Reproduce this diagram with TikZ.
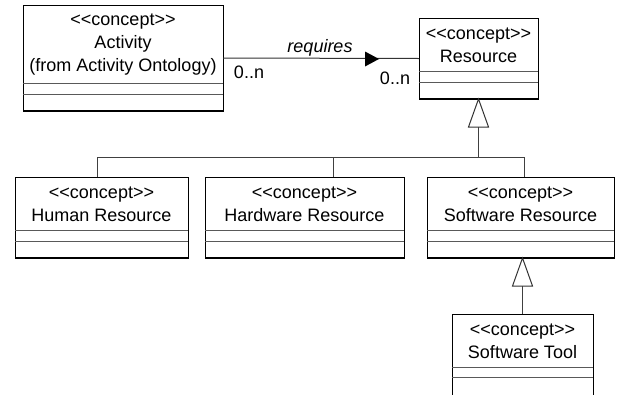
\documentclass[tikz,border=0pt]{standalone}
\usepackage{fontspec}
\setmainfont{Liberation Sans}
\newcommand\stereo[1]{<\kern0pt<#1>\kern0pt>}
\begin{document}
\begin{tikzpicture}[x=1pt,y=-1pt,
  box/.style={draw=black,line width=1pt,fill=white,inner sep=0pt,outer sep=0pt,anchor=north west},
  comp/.style={draw=black!65,line width=1pt},
  txt/.style={font=\fontsize{18}{23}\selectfont,align=center,inner sep=0pt},
  lbl/.style={font=\fontsize{18}{22}\selectfont,inner sep=0pt},
  gen/.style={draw=black!75,line width=1pt},
  genhead/.style={draw=black!80,line width=1pt,fill=white},
  assoc/.style={draw=black!80,line width=1pt}]

\useasboundingbox (0,0) rectangle (617,394);
\clip (0,0) rectangle (617,394);

% concept box: name, left, top, right, bottom, first and second compartment offsets, text
\newcommand\conceptbox[8]{%
  \node[box,minimum width={(#4-#2)*1pt},minimum height={(#5-#3)*1pt}] (#1) at (#2,#3) {};
  \draw[comp] ([yshift=-#6pt]#1.north west) -- ([yshift=-#6pt]#1.north east);
  \draw[comp] ([yshift=-#7pt]#1.north west) -- ([yshift=-#7pt]#1.north east);
  \draw[black,line width=1.6pt] (#1.south west) -- (#1.south east);
  \node[txt] (#1-name) at ([yshift={-(#6/2+1)*1pt}]#1.north) {#8};
}

\conceptbox{act}{23}{5}{223}{111}{78}{89}{\stereo{concept}\\Activity\\(from Activity Ontology)}
\conceptbox{res}{419}{18}{538}{99}{53}{64}{\stereo{concept}\\Resource}
\conceptbox{hum}{15}{177}{188}{258}{53}{64}{\stereo{concept}\\Human Resource}
\conceptbox{hw}{205}{177}{404}{258}{53}{64}{\stereo{concept}\\Hardware Resource}
\conceptbox{sw}{427}{177}{614}{258}{53}{64}{\stereo{concept}\\Software Resource}
\conceptbox{tool}{452}{314}{593}{399}{53}{63}{\stereo{concept}\\Software Tool}

% association "requires"
\draw[assoc] (act.east) -- (res.west);
\node[lbl,font=\fontsize{18}{22}\selectfont\itshape] (req) at (320,48) {requires};
\fill[black] (365,51.5) -- (379,59) -- (365,66.5) -- cycle;
\node[lbl] (m1) at (249,72) {0..n};
\node[lbl] (m2) at (395,78) {0..n};

% generalization: resource kinds
\coordinate (bus) at (0,157);
\draw[gen] ([yshift=-28pt]res.south) -- (res.south |- bus);
\draw[gen] ([xshift=-4.5pt]hum.north) -- ([xshift=-4.5pt]hum.north |- bus)
  -- ([xshift=3.5pt]sw.north |- bus) -- ([xshift=3.5pt]sw.north);
\draw[gen] ([xshift=28.5pt]hw.north) -- ([xshift=28.5pt]hw.north |- bus);
\draw[genhead] (res.south) -- ++(-10,28) -- ++(20,0) -- cycle;

% generalization: software tool
\draw[gen] ([yshift=-28pt]tool.north |- sw.south) -- (tool.north);
\draw[genhead] (tool.north |- sw.south) -- ++(-10,28) -- ++(20,0) -- cycle;
\end{tikzpicture}
\end{document}
